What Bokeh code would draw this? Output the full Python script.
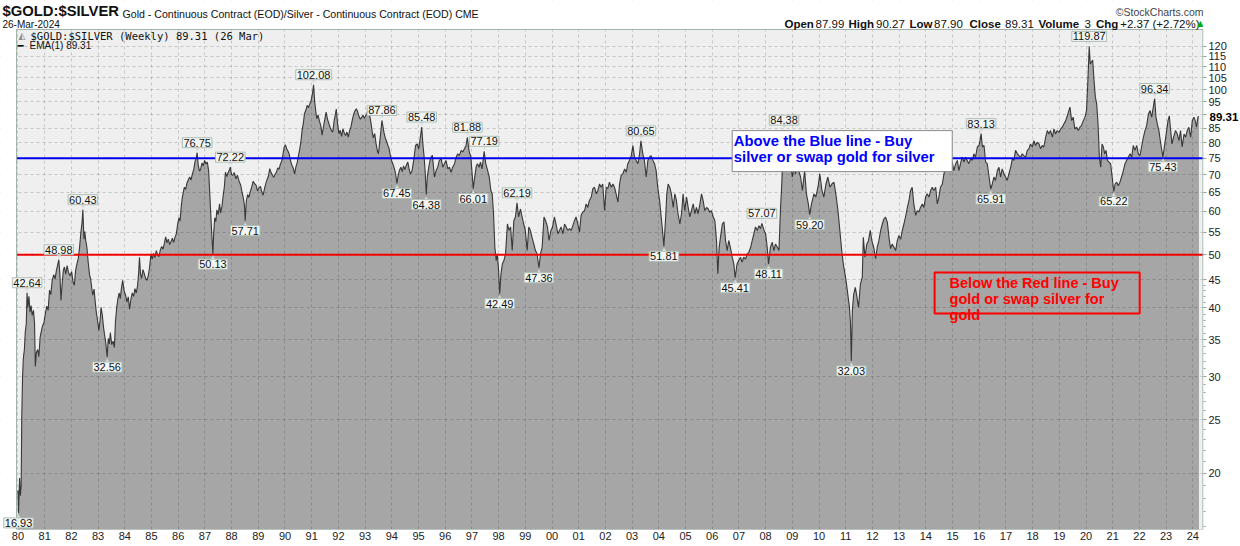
from bokeh.plotting import figure
from bokeh.models import Range1d, FixedTicker, Label, BoxAnnotation, NumeralTickFormatter, LogAxis
from bokeh.embed import file_html
from bokeh.resources import INLINE

# ---------------- data ----------------
years = [
 1980.00,1980.02,1980.04,1980.06,1980.09,1980.12,1980.14,1980.17,1980.20,1980.24,1980.27,1980.31,1980.34,1980.37,1980.41,1980.45,1980.49,1980.53,1980.58,1980.62,1980.65,1980.69,1980.74,1980.78,1980.83,1980.87,1980.92,1980.97,
 1981.03,1981.08,1981.13,1981.18,1981.23,1981.28,1981.34,1981.39,1981.44,1981.49,1981.53,1981.57,1981.61,1981.65,1981.70,1981.74,1981.79,1981.84,1981.89,1981.95,
 1982.01,1982.06,1982.11,1982.16,1982.21,1982.26,1982.31,1982.36,1982.40,1982.43,1982.47,1982.50,1982.54,1982.58,1982.63,1982.68,1982.72,1982.76,1982.80,1982.85,1982.89,1982.93,1982.98,
 1983.03,1983.08,1983.11,1983.16,1983.20,1983.24,1983.28,1983.34,1983.38,1983.42,1983.46,1983.51,1983.56,1983.61,1983.65,1983.70,1983.74,1983.79,1983.83,1983.87,1983.92,1983.97,
 1984.03,1984.08,1984.13,1984.18,1984.23,1984.28,1984.33,1984.38,1984.43,1984.48,1984.52,1984.55,1984.59,1984.63,1984.68,1984.73,1984.78,1984.83,1984.88,1984.93,1984.98,
 1985.03,1985.08,1985.13,1985.18,1985.23,1985.28,1985.33,1985.38,1985.43,1985.48,1985.53,1985.58,1985.63,1985.68,1985.73,1985.78,1985.83,1985.88,1985.93,1985.98,
 1986.03,1986.07,1986.11,1986.15,1986.19,1986.23,1986.28,1986.33,1986.38,1986.43,1986.48,1986.53,1986.58,1986.63,1986.68,1986.71,1986.75,1986.80,1986.84,1986.89,1986.94,1986.99,
 1987.04,1987.09,1987.14,1987.19,1987.23,1987.27,1987.30,1987.33,1987.37,1987.41,1987.45,1987.50,1987.55,1987.59,1987.64,1987.68,1987.73,1987.77,1987.82,1987.86,1987.91,1987.95,
 1988.00,1988.05,1988.10,1988.16,1988.22,1988.28,1988.34,1988.39,1988.44,1988.48,1988.51,1988.55,1988.60,1988.65,1988.70,1988.76,1988.81,1988.86,1988.92,1988.97,
 1989.03,1989.08,1989.13,1989.18,1989.23,1989.28,1989.33,1989.38,1989.43,1989.48,1989.53,1989.58,1989.63,1989.68,1989.73,1989.78,1989.83,1989.88,1989.92,1989.97,
 1990.02,1990.06,1990.11,1990.16,1990.21,1990.26,1990.31,1990.36,1990.41,1990.46,1990.50,1990.55,1990.60,1990.64,1990.69,1990.73,1990.78,1990.83,1990.88,1990.94,1990.98,
 1991.03,1991.07,1991.11,1991.15,1991.19,1991.24,1991.29,1991.34,1991.39,1991.44,1991.49,1991.54,1991.59,1991.64,1991.69,1991.74,1991.79,1991.84,1991.89,1991.92,1991.97,
 1992.02,1992.07,1992.12,1992.17,1992.22,1992.27,1992.32,1992.37,1992.42,1992.47,1992.52,1992.57,1992.62,1992.67,1992.72,1992.77,1992.82,1992.87,1992.92,1992.97,
 1993.02,1993.07,1993.11,1993.14,1993.18,1993.22,1993.27,1993.31,1993.36,1993.41,1993.46,1993.50,1993.55,1993.59,1993.63,1993.67,1993.71,1993.75,1993.80,1993.85,1993.89,1993.94,1993.99,
 1994.04,1994.09,1994.14,1994.19,1994.24,1994.29,1994.34,1994.39,1994.44,1994.49,1994.55,1994.60,1994.65,1994.70,1994.76,1994.82,1994.89,1994.95,
 1995.01,1995.07,1995.12,1995.17,1995.21,1995.25,1995.29,1995.33,1995.38,1995.43,1995.47,1995.52,1995.56,1995.60,1995.66,1995.72,1995.78,1995.85,1995.91,1995.97,
 1996.03,1996.10,1996.16,1996.22,1996.28,1996.35,1996.41,1996.47,1996.53,1996.60,1996.66,1996.72,1996.78,1996.83,1996.89,1996.96,
 1997.01,1997.05,1997.10,1997.16,1997.21,1997.27,1997.32,1997.38,1997.46,1997.52,1997.59,1997.65,1997.71,1997.76,1997.81,1997.86,1997.91,1997.95,
 1998.00,1998.04,1998.09,1998.14,1998.20,1998.26,1998.33,1998.39,1998.45,1998.51,1998.57,1998.63,1998.69,1998.75,1998.82,1998.88,1998.94,
 1999.00,1999.07,1999.13,1999.19,1999.25,1999.32,1999.38,1999.44,1999.51,1999.57,1999.63,1999.70,1999.76,1999.83,1999.89,1999.96,
 2000.02,2000.09,2000.15,2000.22,2000.28,2000.34,2000.41,2000.47,2000.53,2000.59,2000.66,2000.72,2000.78,2000.84,2000.90,2000.97,
 2001.03,2001.09,2001.15,2001.22,2001.28,2001.34,2001.40,2001.47,2001.53,2001.59,2001.66,2001.72,2001.78,2001.84,2001.90,2001.97,
 2002.03,2002.09,2002.15,2002.22,2002.28,2002.34,2002.40,2002.47,2002.53,2002.59,2002.65,2002.72,2002.78,2002.84,2002.90,2002.97,
 2003.03,2003.09,2003.15,2003.22,2003.28,2003.33,2003.40,2003.46,2003.53,2003.59,2003.65,2003.71,2003.78,2003.84,2003.90,2003.96,
 2004.03,2004.09,2004.15,2004.19,2004.25,2004.30,2004.35,2004.41,2004.47,2004.54,2004.60,2004.66,2004.72,2004.79,2004.85,2004.91,2004.97,
 2005.04,2005.10,2005.16,2005.22,2005.29,2005.35,2005.41,2005.47,2005.54,2005.60,2005.66,2005.72,2005.79,2005.85,2005.91,2005.97,
 2006.04,2006.10,2006.16,2006.21,2006.26,2006.31,2006.38,2006.44,2006.50,2006.56,2006.62,2006.68,2006.75,2006.81,2006.86,2006.93,2006.99,
 2007.06,2007.12,2007.18,2007.25,2007.31,2007.37,2007.44,2007.50,2007.56,2007.62,2007.69,2007.75,2007.81,2007.86,2007.94,
 2008.00,2008.06,2008.11,2008.18,2008.25,2008.31,2008.37,2008.44,2008.50,2008.56,2008.60,2008.63,2008.66,2008.69,2008.74,2008.79,2008.86,2008.92,
 2009.00,2009.06,2009.12,2009.18,2009.24,2009.31,2009.38,2009.46,2009.53,2009.60,2009.65,2009.72,2009.81,2009.88,2009.96,
 2010.03,2010.11,2010.18,2010.26,2010.33,2010.41,2010.48,2010.56,2010.63,2010.71,2010.78,2010.85,2010.91,2010.97,
 2011.03,2011.09,2011.14,2011.18,2011.21,2011.25,2011.30,2011.36,2011.42,2011.48,2011.55,2011.62,2011.66,2011.72,2011.79,2011.85,2011.92,2011.98,
 2012.05,2012.12,2012.18,2012.24,2012.31,2012.37,2012.43,2012.49,2012.56,2012.62,2012.68,2012.74,2012.81,2012.87,2012.93,2012.99,
 2013.06,2013.12,2013.18,2013.24,2013.31,2013.37,2013.43,2013.49,2013.55,2013.62,2013.68,2013.74,2013.80,2013.87,2013.93,2013.99,
 2014.05,2014.12,2014.18,2014.24,2014.30,2014.37,2014.43,2014.49,2014.55,2014.62,2014.68,2014.74,2014.80,2014.87,2014.93,2014.99,
 2015.05,2015.12,2015.18,2015.24,2015.30,2015.36,2015.43,2015.49,2015.55,2015.61,2015.68,2015.74,2015.80,2015.86,2015.93,2015.99,
 2016.03,2016.07,2016.12,2016.18,2016.24,2016.30,2016.37,2016.43,2016.49,2016.55,2016.61,2016.68,2016.74,2016.80,2016.86,2016.93,2016.99,
 2017.05,2017.11,2017.18,2017.24,2017.30,2017.36,2017.43,2017.49,2017.55,2017.61,2017.67,2017.74,2017.80,2017.86,2017.92,2017.99,
 2018.05,2018.11,2018.17,2018.24,2018.30,2018.36,2018.42,2018.49,2018.55,2018.61,2018.67,2018.74,2018.80,2018.86,2018.92,2018.99,
 2019.05,2019.11,2019.17,2019.24,2019.30,2019.36,2019.40,2019.46,2019.52,2019.58,2019.65,2019.71,2019.77,2019.83,2019.90,2019.96,
 2020.02,2020.07,2020.12,2020.16,2020.20,2020.25,2020.30,2020.35,2020.40,2020.45,2020.50,2020.55,2020.60,2020.65,2020.70,2020.75,2020.80,2020.86,2020.92,2020.98,
 2021.04,2021.09,2021.15,2021.21,2021.27,2021.33,2021.40,2021.46,2021.52,2021.58,2021.65,2021.71,2021.77,2021.83,2021.90,2021.96,
 2022.02,2022.08,2022.15,2022.21,2022.27,2022.34,2022.40,2022.46,2022.57,2022.62,2022.67,2022.73,2022.80,2022.88,2022.95,
 2023.02,2023.07,2023.12,2023.17,2023.22,2023.28,2023.35,2023.42,2023.48,2023.54,2023.60,2023.67,2023.73,2023.79,2023.85,2023.92,2023.98,
 2024.04,2024.09,2024.14,2024.19,2024.23,
]
ratio = [
 18.6,16.93,18.3,19.6,18.2,19.0,25.1,29.8,32.4,33.6,36.0,37.4,42.64,40.1,42.0,39.3,40.4,38.8,39.6,37.5,31.3,33.2,33.6,32.6,35.4,36.2,37.1,37.6,
 39.2,40.3,39.6,43.1,42.3,44.9,46.0,45.2,46.9,48.0,48.98,46.0,41.3,44.0,46.9,47.5,46.1,47.8,46.5,45.8,
 46.6,44.6,44.0,46.9,48.2,49.3,51.8,55.2,57.3,60.43,53.4,55.1,53.0,51.6,48.4,46.0,45.2,43.6,42.2,43.3,41.2,39.4,38.0,
 36.4,38.2,40.1,38.8,37.0,35.8,34.8,32.56,35.2,34.4,36.1,34.3,34.8,33.9,37.8,40.2,41.5,42.6,41.6,43.3,44.9,43.1,
 42.2,41.0,41.9,39.8,41.5,42.6,42.0,43.4,42.6,44.0,46.4,49.5,46.1,45.3,47.0,46.2,45.3,44.9,45.8,47.5,50.2,
 49.1,50.3,49.4,50.9,50.0,49.6,51.0,51.8,51.2,52.4,53.9,52.6,53.4,52.2,52.8,53.6,52.7,53.8,54.6,56.9,
 58.4,57.6,61.0,63.4,64.9,66.4,65.8,67.6,68.5,69.3,68.4,70.2,71.4,73.9,75.2,76.75,72.8,71.0,71.6,73.5,72.6,74.3,
 73.2,73.8,71.2,63.5,58.0,53.2,50.13,54.8,58.4,57.5,60.4,59.2,61.9,59.6,61.3,63.8,66.6,70.7,69.4,70.4,71.2,72.22,
 70.0,69.8,70.6,68.8,69.8,68.1,67.0,65.1,63.4,61.6,57.71,62.6,64.4,63.6,65.2,66.6,68.1,67.4,66.9,65.4,
 66.3,66.6,65.2,64.2,65.9,67.4,68.6,69.6,71.8,70.6,69.8,69.2,70.1,70.8,72.0,71.6,73.2,74.1,76.0,78.6,
 79.3,78.0,77.3,76.2,74.1,72.8,71.9,70.2,72.4,73.7,75.6,77.8,80.7,84.3,87.0,90.4,91.7,93.6,92.7,94.5,95.6,
 98.4,102.08,95.3,91.6,88.5,89.9,87.6,86.0,82.6,85.5,88.2,91.0,88.4,86.8,85.3,84.2,83.7,87.7,90.3,92.2,86.6,
 83.1,84.3,82.2,84.8,83.4,82.5,83.7,81.9,84.1,85.5,88.0,90.1,91.5,92.3,91.2,89.4,88.3,89.0,89.8,88.7,
 89.6,90.5,91.8,92.9,89.2,87.0,83.5,81.7,83.2,79.8,77.3,76.4,80.4,83.9,87.86,85.6,83.4,81.8,80.6,79.2,78.4,76.1,74.3,
 73.2,72.0,70.4,67.45,69.8,71.4,72.2,70.9,72.6,71.5,72.9,73.8,71.6,70.2,71.2,74.3,79.1,79.6,
 78.0,81.9,85.48,79.0,75.4,70.8,64.38,69.3,72.0,74.2,75.3,75.9,72.4,69.3,71.2,72.2,74.3,74.8,72.2,73.3,
 74.3,71.7,72.2,70.7,72.2,73.3,75.3,76.4,75.8,77.5,77.0,78.0,79.1,81.88,77.5,75.3,
 70.2,66.01,69.0,72.4,73.3,72.2,73.8,71.7,77.19,73.3,71.2,69.3,65.5,64.6,59.4,51.6,48.8,50.2,
 46.8,42.49,46.2,48.1,48.8,50.2,56.9,55.4,56.2,50.9,57.7,58.6,62.19,58.6,60.6,58.6,56.9,
 55.4,50.9,56.2,55.4,53.8,52.3,50.9,50.2,47.36,50.2,51.6,58.6,57.7,56.2,53.1,55.4,
 56.2,58.6,56.9,54.6,55.4,56.2,54.6,56.9,56.2,55.4,55.8,55.4,56.5,57.7,58.6,56.9,
 55.0,59.0,59.8,60.2,61.9,61.0,62.8,63.7,66.0,66.4,64.6,65.5,67.3,66.4,67.3,60.2,
 66.4,66.0,67.8,66.4,67.3,66.4,64.6,62.4,67.3,69.8,70.2,71.7,70.7,73.3,74.3,75.8,
 79.1,75.3,74.3,73.3,76.4,80.65,76.4,74.3,69.3,74.3,75.3,75.8,74.3,73.3,71.2,66.4,
 62.8,58.6,54.6,51.81,57.7,64.6,67.3,66.4,64.6,61.0,64.6,62.8,59.4,56.9,59.4,64.6,60.2,
 63.7,61.0,58.6,60.2,61.9,59.4,61.0,59.4,61.9,64.6,62.8,60.2,61.0,60.6,59.8,60.2,
 58.6,57.7,53.1,46.2,51.6,53.8,56.9,57.4,53.1,50.9,53.1,51.6,49.5,48.1,45.41,48.1,48.8,
 49.5,48.5,49.5,49.1,50.2,50.5,51.6,53.1,54.6,56.2,55.4,56.5,55.8,57.07,55.4,
 54.6,51.6,48.11,51.6,52.7,50.9,52.3,51.6,50.9,61.0,66.4,72.2,78.6,84.38,78.6,75.3,79.6,74.3,
 69.3,72.2,70.2,74.3,71.2,69.3,65.5,71.2,64.6,61.9,59.20,61.9,64.6,63.7,66.4,
 70.2,65.5,63.7,67.3,69.3,66.4,67.3,67.8,64.6,60.2,55.4,50.9,48.1,46.2,
 44.2,41.9,40.1,37.4,32.03,39.6,42.4,43.6,41.9,40.1,44.2,45.5,53.8,49.5,52.3,53.0,55.4,53.0,
 51.6,49.2,51.6,53.0,55.4,56.9,58.1,58.6,57.3,53.8,51.3,52.3,51.6,50.9,53.0,54.2,
 53.4,55.4,56.9,58.6,61.0,62.8,65.5,66.4,61.9,59.0,60.2,59.8,61.0,61.9,61.0,63.7,
 64.6,63.7,65.5,66.4,65.5,66.4,61.9,63.7,66.4,67.3,70.2,72.2,73.3,74.3,72.2,73.8,
 71.2,73.3,74.3,71.2,73.3,75.3,73.8,75.3,74.3,73.3,74.8,74.3,76.4,75.3,78.6,79.1,
 80.7,83.13,78.6,79.1,73.8,73.3,69.3,65.91,67.3,69.3,68.3,71.2,72.2,69.3,71.7,70.2,69.3,
 68.3,70.2,72.2,74.8,74.3,77.5,76.4,75.8,75.3,76.4,75.8,75.3,77.5,78.0,79.6,78.6,
 80.7,79.1,80.2,79.6,78.0,79.1,78.6,81.9,84.2,83.0,84.2,81.9,84.8,83.0,84.2,83.6,
 84.8,85.4,86.6,87.8,89.6,91.6,92.9,87.8,89.1,84.8,85.4,84.2,85.4,86.0,87.8,89.1,
 91.6,103.9,119.87,111.4,112.2,113.2,103.9,96.9,94.2,86.6,75.3,72.2,79.6,78.6,76.4,77.5,74.3,73.8,73.3,69.3,
 65.22,67.3,67.8,66.8,67.8,69.3,71.2,73.3,74.3,75.3,76.4,75.3,79.1,77.5,79.1,76.4,
 75.8,78.6,81.9,84.2,86.0,90.3,91.6,89.1,96.34,89.1,86.6,84.2,79.6,75.43,79.6,
 84.2,87.8,89.6,84.2,79.6,81.9,84.2,83.0,80.7,84.2,78.6,83.0,81.9,84.2,85.4,81.9,87.8,
 89.1,87.8,85.4,89.1,89.31,
]

# labelled swing highs / lows
mark_years = [1980.02,1980.34,1981.53,1982.43,1983.34,1986.71,1987.30,1987.95,1988.51,1991.07,1993.63,1994.19,
              1995.12,1995.29,1996.83,1997.05,1997.46,1998.04,1998.69,1999.51,2003.33,2004.19,2006.86,2007.86,
              2008.11,2008.69,2009.65,2011.21,2016.07,2016.43,2020.12,2021.04,2022.57,2022.88]
mark_values = [16.93,42.64,48.98,60.43,32.56,76.75,50.13,72.22,57.71,102.08,87.86,67.45,
               85.48,64.38,81.88,66.01,77.19,42.49,62.19,47.36,80.65,51.81,45.41,57.07,
               48.11,84.38,59.20,32.03,83.13,65.91,119.87,65.22,96.34,75.43]
mark_kind = ["low","high","high","high","low","high","low","high","low","high","high","low",
             "high","low","high","low","high","low","high","low","high","low","low","high",
             "low","high","low","low","high","low","high","low","high","low"]

y_ticks = [20, 25, 30, 35, 40, 45, 50, 55, 60, 65, 70, 75, 80, 85, 90, 95, 100, 105, 110, 115, 120]
y_minor = [16, 17, 18, 19, 21, 22, 23, 24, 26, 27, 28, 29, 31, 32, 33, 34, 36, 37, 38, 39, 41, 42, 43, 44]
year_ticks = list(range(1980, 2025))
year_labels = ["80","81","82","83","84","85","86","87","88","89","90","91","92","93","94","95","96","97","98","99",
               "00","01","02","03","04","05","06","07","08","09","10","11","12","13","14","15","16","17","18","19",
               "20","21","22","23","24"]

buy_silver_level = 75
buy_gold_level = 50
last_value = 89.31

SANS = "Liberation Sans"
NARROW = "Liberation Sans Narrow, Liberation Sans"

# ---------------- geometry ----------------
XL, X1 = 1979.345, 2024.40      # frame covers the whole width left of the price axis
PX0 = 1979.944                  # left edge of the plotting area
Y0, YT = 15.79, 145.35          # frame covers the header strip too
PY1 = 128.7                     # top edge of the plotting area
MASK_Y = 128.97

p = figure(frame_width=1203, frame_height=529,
           x_range=Range1d(XL, X1), y_range=Range1d(Y0, YT),
           y_axis_type="log", y_axis_location="right",
           output_backend="svg", toolbar_location=None,
           min_border_left=0, min_border_right=0, min_border_top=0, min_border_bottom=16)

p.background_fill_color = "white"
p.border_fill_color = "white"
p.outline_line_color = None

# plotting-area background
p.add_layout(BoxAnnotation(left=PX0, top=PY1, fill_color="#efefef", fill_alpha=1,
                           line_color=None, level="underlay"))

ya = p.yaxis[0]
ya.ticker = FixedTicker(ticks=y_ticks, minor_ticks=y_minor)
ya.formatter = NumeralTickFormatter(format="0")
ya.major_label_overrides = {90: ""}
ya.axis_line_color = None
ya.major_tick_in = 0
ya.major_tick_out = 3
ya.minor_tick_in = 0
ya.minor_tick_out = 2
ya.major_tick_line_color = "#8fa49c"
ya.minor_tick_line_color = "#8fa49c"
ya.major_label_standoff = 2
ya.major_label_text_font = SANS
ya.major_label_text_font_size = "11px"
ya.major_label_text_color = "#222222"

# second (outer) price axis carrying only the last value
la = LogAxis(ticker=FixedTicker(ticks=[last_value], minor_ticks=[]),
             formatter=NumeralTickFormatter(format="0.00"))
la.axis_line_color = None
la.major_tick_line_color = None
la.major_tick_in = 0
la.major_tick_out = 0
la.major_label_standoff = -20
la.major_label_text_font = SANS
la.major_label_text_font_style = "bold"
la.major_label_text_font_size = "11.5px"
la.major_label_text_color = "black"
p.add_layout(la, "right")

xa = p.xaxis[0]
xa.ticker = FixedTicker(ticks=year_ticks, minor_ticks=[])
xa.major_label_overrides = {y: lab for y, lab in zip(year_ticks, year_labels)}
xa.axis_line_color = None
xa.major_tick_in = 0
xa.major_tick_out = 0
xa.major_label_standoff = 2
xa.major_label_text_font = SANS
xa.major_label_text_font_size = "11px"
xa.major_label_text_color = "#222222"

for g in (p.xgrid[0], p.ygrid[0]):
    g.grid_line_color = "black"
    g.grid_line_alpha = 0.17
    g.grid_line_dash = "3 3"
    g.level = "guide"
p.xgrid[0].ticker = FixedTicker(ticks=year_ticks)
p.ygrid[0].ticker = FixedTicker(ticks=y_ticks)

# mountain + line
p.varea(x=years, y1=1, y2=ratio, fill_color="#a6a6a6")
p.line(years, ratio, line_color="#383838", line_width=1.1)

# horizontal levels across the plotting area
p.segment(x0=[PX0], x1=[X1], y0=[buy_silver_level], y1=[buy_silver_level], line_color="#0000ff", line_width=2)
p.segment(x0=[PX0], x1=[X1], y0=[buy_gold_level], y1=[buy_gold_level], line_color="#ff0000", line_width=2)

# white masks for the margins (header strip and left gutter)
p.add_layout(BoxAnnotation(right=PX0, fill_color="white", fill_alpha=1, line_color=None))
p.add_layout(BoxAnnotation(bottom=MASK_Y, fill_color="white", fill_alpha=1, line_color=None))
# plotting-area frame
p.add_layout(BoxAnnotation(left=PX0, right=X1 - 0.02, top=PY1, fill_alpha=0,
                           line_color="#9fb4ac", line_alpha=1, line_width=1))

# swing labels
for yr, val, kind in zip(mark_years, mark_values, mark_kind):
    up = kind == "high"
    p.add_layout(Label(x=yr, y=val, text="▼" if up else "▲", text_align="center",
                       text_baseline="bottom" if up else "top",
                       text_font="DejaVu Sans", text_font_size="7px", text_color="#d9e0da"))
    p.add_layout(Label(x=yr, y=val, text=f"{val:.2f}", text_align="center",
                       text_baseline="bottom" if up else "top", y_offset=5 if up else -5,
                       text_font=NARROW, text_font_size="11px",
                       text_color="#111111", background_fill_color="#f3f5f3",
                       border_line_color="#aebfb6", border_line_width=1, padding=1))

# annotation boxes
p.add_layout(BoxAnnotation(left=2006.75, right=2014.99, bottom=70.9, top=84.2,
                           fill_color="white", fill_alpha=1, line_color="#8a8a8a",
                           line_alpha=1, line_width=1))
for txt, yy in (("Above the Blue line - Buy", 83.4), ("silver or swap gold for silver", 77.8)):
    p.add_layout(Label(x=2006.81, y=yy, text=txt, text_baseline="top", text_font=SANS,
                       text_font_style="bold", text_font_size="14.8px", text_color="#0000ff"))
p.add_layout(BoxAnnotation(left=2014.33, right=2022.01, bottom=39.1, top=46.4,
                           fill_alpha=0, line_color="#ff0000", line_alpha=1, line_width=2))
for txt, yy in (("Below the Red line - Buy", 46.0), ("gold or swap silver for", 43.0), ("gold", 40.2)):
    p.add_layout(Label(x=2014.89, y=yy, text=txt, text_baseline="top", text_font=SANS,
                       text_font_style="bold", text_font_size="14.5px", text_color="#ff0000"))

# ---- texts placed in page pixels from the top-left corner of the canvas ----
def ptext(px, top, txt, size="11px", bold=False, align="left", color="#111111", font=SANS, baseline="top"):
    p.add_layout(Label(x=XL, y=YT, x_offset=px, y_offset=-top, text=txt, text_align=align,
                       text_baseline=baseline, text_font=font, text_font_size=size, text_color=color,
                       text_font_style="bold" if bold else "normal"))

# in-plot legend
ptext(18, 30, "◭", size="9px", color="#8a8a8a", font="DejaVu Sans")
ptext(30, 29.5, "$GOLD:$SILVER (Weekly) 89.31 (26 Mar)", size="10.5px", font="DejaVu Sans Mono")
ptext(17, 39.5, "━", size="10px", font="DejaVu Sans")
ptext(29, 39.5, "EMA(1) 89.31", size="10px")

# header
ptext(2, 2, "$GOLD:$SILVER", size="14.8px", bold=True)
ptext(122, 7.2, "Gold - Continuous Contract (EOD)/Silver - Continuous Contract (EOD)  CME", size="10.6px")
ptext(2, 18, "26-Mar-2024", size="10px")
ptext(1203, 5, "©StockCharts.com", size="10.5px", align="right", color="#444444", font=NARROW)
ohlc = [("Open", True, 784), ("87.99", False, 815), ("High", True, 848), ("90.27", False, 875.5),
        ("Low", True, 909), ("87.90", False, 933.5), ("Close", True, 969), ("89.31", False, 1004.5),
        ("Volume", True, 1038), ("3", False, 1084), ("Chg", True, 1095.5)]
for txt, bold, px in ohlc:
    ptext(px, 23.4, txt, size="11.5px", bold=bold, baseline="alphabetic")
ptext(1119.7, 23.4, "+2.37 (+2.72%)", size="11.5px", font=NARROW, baseline="alphabetic")
ptext(1203, 23.4, "▲", size="8px", align="right", color="#00b000", font="DejaVu Sans", baseline="alphabetic")

open("out.html", "w").write(file_html(p, INLINE))
